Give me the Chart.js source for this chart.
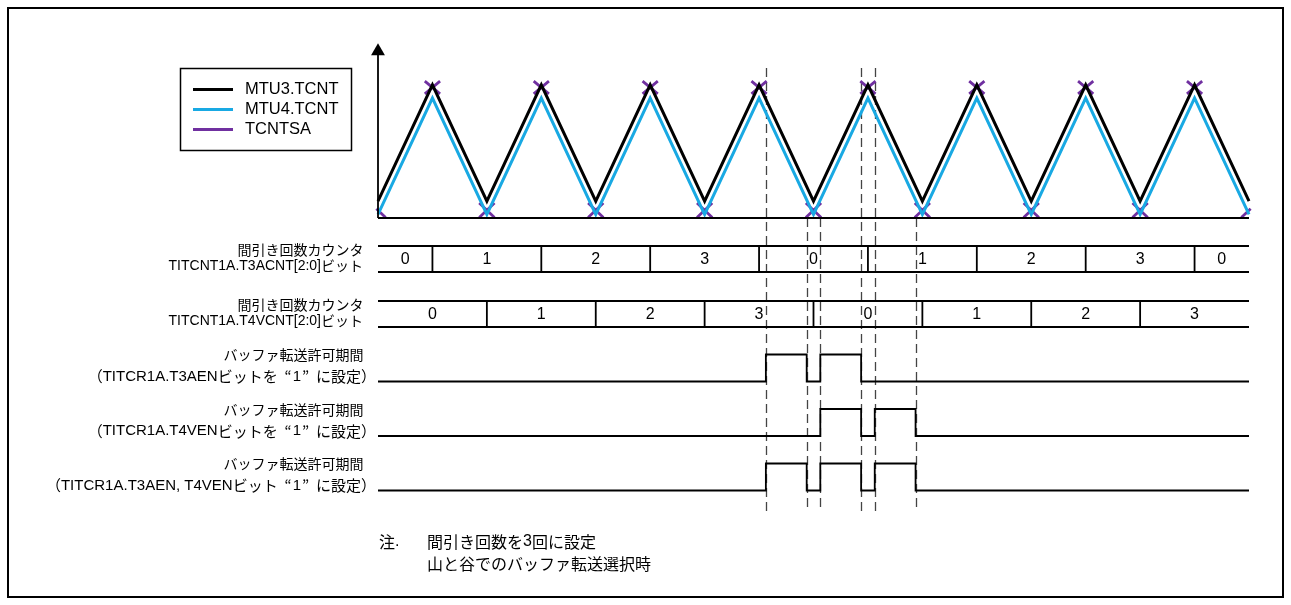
<!DOCTYPE html>
<html><head><meta charset="utf-8">
<script src="https://cdn.jsdelivr.net/npm/chart.js@4/dist/chart.umd.min.js"></script>
<style>html,body{margin:0;padding:0;background:#fff;}canvas{display:block;}</style>
</head><body>
<canvas id="c" width="1291" height="605"></canvas>
<script>
// ================= DATA =================
// time axis: 0..16 half-periods of the carrier
const timeT      = [0,1,2,3,4,5,6,7,8,9,10,11,12,13,14,15,16];
const mtu3Tcnt   = [14,111,14,111,14,111,14,111,14,111,14,111,14,111,14,111,14];
const mtu4Tcnt   = [3,100,3,100,3,100,3,100,3,100,3,100,3,100,3,100,3];
const tcntsaHigh = [12.5,114,12.5,114,12.5,114,12.5,114,12.5,114,12.5,114,12.5,114,12.5,114,12.5];
const tcntsaLow  = [0.5,103.5,0.5,103.5,0.5,103.5,0.5,103.5,0.5,103.5,0.5,103.5,0.5,103.5,0.5,103.5,0.5];
const tcntsaHalf = 0.14;
const seriesNames = ['MTU3.TCNT','MTU4.TCNT','TCNTSA'];

// thinning counters (bus rows)
const t3acntEdges  = [0,1,3,5,7,9,11,13,15,16];
const t3acntValues = ['0','1','2','3','0','1','2','3','0'];
const t4vcntEdges  = [0,2,4,6,8,10,12,14,16];
const t4vcntValues = ['0','1','2','3','0','1','2','3'];

// buffer-transfer enable windows [rise, fall]
const t3aenWindows = [[7.125,7.875],[8.125,8.875]];
const t4venWindows = [[8.125,8.875],[9.125,9.875]];
const bothWindows  = [[7.125,7.875],[8.125,8.875],[9.125,9.875]];

// dashed guide lines
const guideT     = [7.125,7.875,8.125,8.875,9.125,9.875];
const guideTop   = [125,0,0,125,125,0];   // in counter units
const guideBottom = -0.8;                 // in last pulse row units

const rowLabels = [
  ['間引き回数カウンタ','TITCNT1A.T3ACNT[2:0]ビット'],
  ['間引き回数カウンタ','TITCNT1A.T4VCNT[2:0]ビット'],
  ['バッファ転送許可期間','（TITCR1A.T3AENビットを“1”に設定）'],
  ['バッファ転送許可期間','（TITCR1A.T4VENビットを“1”に設定）'],
  ['バッファ転送許可期間','（TITCR1A.T3AEN, T4VENビット“1”に設定）']
];
const noteMark = '注.';
const noteLines = ['間引き回数を3回に設定','山と谷でのバッファ転送選択時'];

// ================= LAYOUT HELPERS =================
const W = 1291, H = 605;
const LATIN = "'Liberation Sans', Arial, sans-serif";
const CJK = "'Noto Sans CJK JP', sans-serif";
function xRange(p0, p16){ const k=(p16-p0)/16; return {min:-p0/k, max:(W-p0)/k}; }
function yRange(v0,p0,v1,p1){ const k=(p0-p1)/(v1-v0); const max=v1+p1/k; return {min:max-H/k, max:max}; }

// ================= BUILD SERIES =================
const pts = (xs, ys) => xs.map((x,i)=>({x:x, y:ys[i]}));
function xMarks(){
  const out=[]; const n=timeT.length;
  timeT.forEach((t,i)=>{
    const hi=tcntsaHigh[i], lo=tcntsaLow[i], h=tcntsaHalf;
    const lines=[];
    if (i < n-1) lines.push([t-h,hi,t+h,lo]);   // "\"
    if (i > 0)   lines.push([t-h,lo,t+h,hi]);   // "/"
    lines.forEach(([x1,y1,x2,y2])=>{
      const a=Math.max(x1,-0.03), b=Math.min(x2,16.03);
      const f=x=>y1+(y2-y1)*(x-x1)/(x2-x1);
      out.push({x:a,y:f(a)},{x:b,y:f(b)},{x:b,y:null});
    });
  });
  return out;
}
function busPoints(edges){
  const a=edges[0], b=edges[edges.length-1];
  const out=[{x:a,y:1},{x:b,y:1},{x:b,y:null},{x:a,y:0},{x:b,y:0},{x:b,y:null}];
  edges.slice(1,-1).forEach(e=>out.push({x:e,y:0},{x:e,y:1},{x:e,y:null}));
  return out;
}
function pulsePoints(wins){
  const out=[{x:0,y:0}];
  wins.forEach(([r,f])=>out.push({x:r,y:0},{x:r,y:1},{x:f,y:1},{x:f,y:0}));
  out.push({x:16,y:0});
  return out;
}

const base = {showLine:true, pointRadius:0, spanGaps:false, borderColor:'#000', fill:false};
const datasets = [
  {...base, label:'axisX', yAxisID:'yWave', borderWidth:1.8, data:[{x:0,y:0},{x:16,y:0}]},
  {...base, label:'axisY', yAxisID:'yWave', borderWidth:1.8, data:[{x:0,y:0},{x:0,y:139}],
     pointRadius:[0,8], pointStyle:'triangle', pointBackgroundColor:'#000', pointBorderWidth:0},
  {...base, label:seriesNames[0], yAxisID:'yWave', borderColor:'#000000', borderWidth:3, data:pts(timeT,mtu3Tcnt)},
  {...base, label:seriesNames[1], yAxisID:'yWave', borderColor:'#19A9E3', borderWidth:3, data:pts(timeT,mtu4Tcnt)},
  {...base, label:seriesNames[2], yAxisID:'yWave', borderColor:'#7030A0', borderWidth:2.8, data:xMarks()},
  {...base, label:'T3ACNT', yAxisID:'yBus1', borderWidth:1.8, data:busPoints(t3acntEdges)},
  {...base, label:'T4VCNT', yAxisID:'yBus2', borderWidth:1.8, data:busPoints(t4vcntEdges)},
  {...base, label:'T3AEN', yAxisID:'yP1', borderWidth:1.8, data:pulsePoints(t3aenWindows)},
  {...base, label:'T4VEN', yAxisID:'yP2', borderWidth:1.8, data:pulsePoints(t4venWindows)},
  {...base, label:'BOTH',  yAxisID:'yP3', borderWidth:1.8, data:pulsePoints(bothWindows)}
];

const hid = r => ({type:'linear', display:false, bounds:'data', min:r.min, max:r.max});
const scales = {
  x: hid(xRange(378,1249)),
  yWave: hid(yRange(0,218,100,98)),
  yBus1: hid(yRange(0,272,1,246)),
  yBus2: hid(yRange(0,327,1,301)),
  yP1: hid(yRange(0,381.5,1,354.5)),
  yP2: hid(yRange(0,436,1,409)),
  yP3: hid(yRange(0,490.5,1,463.5))
};
scales.x.position='bottom';

// ================= TEXT DRAWING =================
// kinds: 'L' latin, 'C' CJK, 'Q' full-width quote
function kindOf(ch){ if (ch==='“'||ch==='”') return 'Q'; return ch.charCodeAt(0) < 0x2000 ? 'L' : 'C'; }
function runs(text){
  const out=[]; let cur='', k=null;
  for (const ch of text){
    const kk = kindOf(ch);
    if (k===null || (kk===k && kk!=='Q')) cur+=ch; else { out.push([cur,k]); cur=ch; }
    k=kk;
  }
  if (cur) out.push([cur,k]);
  return out;
}
function drawMixed(ctx, text, x, y, size, align){
  const rs=runs(text);
  const ws=rs.map(([s,k])=>{ if (k==='Q') return size; ctx.font=size+'px '+(k==='L'?LATIN:CJK); return ctx.measureText(s).width; });
  const total=ws.reduce((a,b)=>a+b,0);
  let cx = align==='right' ? x-total : align==='center' ? x-total/2 : x;
  ctx.textAlign='left'; ctx.textBaseline='middle';
  rs.forEach(([s,k],i)=>{
    if (k==='Q'){
      ctx.font=size+'px '+CJK; const w=ctx.measureText(s).width;
      ctx.fillText(s, s==='“' ? cx+size-w-1 : cx+1, y);
    } else { ctx.font=size+'px '+(k==='L'?LATIN:CJK); ctx.fillText(s,cx,y); }
    cx+=ws[i];
  });
}

const guidePlugin = {
  id:'guides',
  beforeDatasetsDraw(chart){
    const ctx=chart.ctx, xs=chart.scales.x, yw=chart.scales.yWave, yp=chart.scales.yP3;
    ctx.save(); ctx.setLineDash([9,5]); ctx.strokeStyle='#444'; ctx.lineWidth=1.3;
    guideT.forEach((t,i)=>{
      const x=Math.round(xs.getPixelForValue(t))+0.5;
      ctx.beginPath(); ctx.moveTo(x, yw.getPixelForValue(guideTop[i])); ctx.lineTo(x, yp.getPixelForValue(guideBottom)); ctx.stroke();
    });
    ctx.restore();
  }
};

const textPlugin = {
  id:'texts',
  afterDatasetsDraw(chart){
    const ctx=chart.ctx, xs=chart.scales.x; const S=chart.scales;
    ctx.save(); ctx.fillStyle='#000';
    // frame
    ctx.lineWidth=2; ctx.strokeStyle='#000'; ctx.strokeRect(8,8,W-16,H-16);
    // legend
    ctx.lineWidth=1.5; ctx.strokeRect(180.5,68.5,171,82);
    [2,3,4].forEach((di,j)=>{
      const ds=chart.data.datasets[di]; const y=89.5+20*j;
      ctx.strokeStyle=ds.borderColor; ctx.lineWidth=3;
      ctx.beginPath(); ctx.moveTo(193,y); ctx.lineTo(233,y); ctx.stroke();
      drawMixed(ctx, ds.label, 245, y, 16.5, 'left');
    });
    // bus values
    [[S.yBus1,t3acntEdges,t3acntValues],[S.yBus2,t4vcntEdges,t4vcntValues]].forEach(([ys,edges,vals])=>{
      const y=ys.getPixelForValue(0.5)+0.5;
      vals.forEach((v,i)=>drawMixed(ctx, v, xs.getPixelForValue((edges[i]+edges[i+1])/2), y, 16, 'center'));
    });
    // row labels
    [S.yBus1,S.yBus2].forEach((ys,i)=>{
      drawMixed(ctx, rowLabels[i][0], 363.5, ys.getPixelForValue(1)+3.5, 14, 'right');
      drawMixed(ctx, rowLabels[i][1], 363, ys.getPixelForValue(0)-6, 14, 'right');
    });
    [S.yP1,S.yP2,S.yP3].forEach((ys,i)=>{
      drawMixed(ctx, rowLabels[i+2][0], 363.5, ys.getPixelForValue(1)+0.5, 14, 'right');
      drawMixed(ctx, rowLabels[i+2][1], 376, ys.getPixelForValue(0)-5, 15, 'right');
    });
    // note
    drawMixed(ctx, noteMark, 379, 542, 16, 'left');
    drawMixed(ctx, noteLines[0], 427, 542, 16, 'left');
    drawMixed(ctx, noteLines[1], 427, 563.5, 16, 'left');
    ctx.restore();
  }
};

new Chart(document.getElementById('c'), {
  type:'scatter',
  data:{datasets},
  options:{
    responsive:false, animation:false, devicePixelRatio:1, events:[],
    layout:{padding:0, autoPadding:false},
    plugins:{legend:{display:false}, tooltip:{enabled:false}},
    elements:{line:{borderJoinStyle:'miter', tension:0}},
    scales
  },
  plugins:[guidePlugin,textPlugin]
});
</script>
</body></html>
